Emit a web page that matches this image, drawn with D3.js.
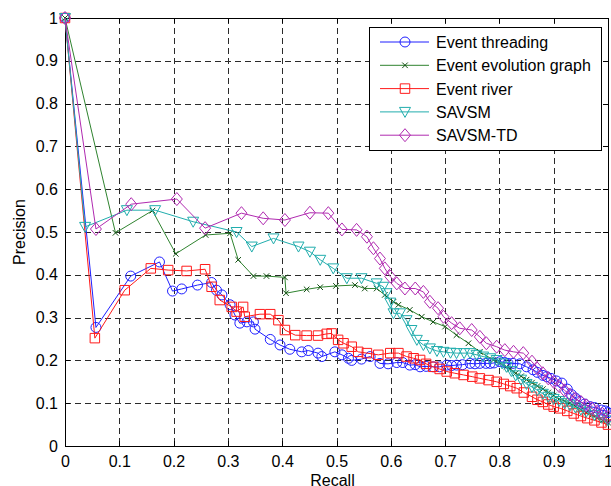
<!DOCTYPE html>
<html>
<head>
<meta charset="utf-8">
<script src="https://cdn.jsdelivr.net/npm/d3@7"></script>
<style>
  body { margin: 0; background: #fff; }
  svg { display: block; font-family: "Liberation Sans", Arial, Helvetica, sans-serif; }
</style>
</head>
<body>
<svg id="chart" width="611" height="486"></svg>
<script>
// data

const seriesNames = ['Event threading', 'Event evolution graph', 'Event river', 'SAVSM', 'SAVSM-TD'];

const threadingRecall = [0, 0.057, 0.121, 0.174, 0.198, 0.215, 0.244, 0.27, 0.279, 0.289, 0.304, 0.313, 0.322, 0.335, 0.347, 0.35, 0.378, 0.396, 0.414, 0.436, 0.448, 0.466, 0.473, 0.497, 0.51, 0.522, 0.528, 0.546, 0.562, 0.58, 0.595, 0.611, 0.622, 0.635, 0.645, 0.654, 0.665, 0.678, 0.69, 0.703, 0.712, 0.721, 0.732, 0.746, 0.755, 0.764, 0.775, 0.783, 0.79, 0.801, 0.81, 0.816, 0.825, 0.838, 0.85, 0.862, 0.87, 0.88, 0.887, 0.895, 0.905, 0.915, 0.925, 0.933, 0.94, 0.948, 0.957, 0.967, 0.975, 0.988, 0.995, 1];
const threadingPrecision = [1, 0.277, 0.397, 0.43, 0.362, 0.367, 0.376, 0.382, 0.364, 0.353, 0.33, 0.306, 0.287, 0.29, 0.29, 0.273, 0.249, 0.236, 0.226, 0.22, 0.223, 0.217, 0.209, 0.22, 0.213, 0.205, 0.2, 0.203, 0.209, 0.193, 0.192, 0.195, 0.195, 0.189, 0.19, 0.185, 0.186, 0.185, 0.185, 0.189, 0.188, 0.189, 0.19, 0.193, 0.192, 0.193, 0.193, 0.193, 0.194, 0.197, 0.195, 0.193, 0.193, 0.192, 0.185, 0.178, 0.172, 0.165, 0.162, 0.158, 0.152, 0.147, 0.133, 0.12, 0.112, 0.104, 0.098, 0.092, 0.09, 0.084, 0.082, 0.078];

const evolutionRecall = [0, 0.093, 0.161, 0.204, 0.259, 0.304, 0.319, 0.347, 0.371, 0.405, 0.407, 0.445, 0.47, 0.499, 0.534, 0.552, 0.574, 0.589, 0.605, 0.614, 0.635, 0.657, 0.678, 0.7, 0.721, 0.743, 0.764, 0.789, 0.813, 0.82, 0.83, 0.84, 0.85, 0.86, 0.87, 0.88, 0.89, 0.9, 0.91, 0.92, 0.93, 0.94, 0.95, 0.96, 0.97, 0.98, 0.99, 1];
const evolutionPrecision = [1, 0.498, 0.55, 0.449, 0.493, 0.497, 0.435, 0.397, 0.397, 0.394, 0.357, 0.366, 0.371, 0.374, 0.376, 0.368, 0.368, 0.353, 0.337, 0.33, 0.318, 0.302, 0.29, 0.279, 0.259, 0.24, 0.22, 0.201, 0.185, 0.18, 0.17, 0.163, 0.155, 0.148, 0.14, 0.133, 0.125, 0.118, 0.11, 0.105, 0.1, 0.093, 0.085, 0.078, 0.072, 0.066, 0.06, 0.055];

const riverRecall = [0, 0.055, 0.11, 0.158, 0.19, 0.224, 0.258, 0.27, 0.285, 0.307, 0.316, 0.328, 0.331, 0.359, 0.378, 0.393, 0.405, 0.424, 0.445, 0.466, 0.482, 0.491, 0.503, 0.513, 0.528, 0.54, 0.556, 0.577, 0.599, 0.614, 0.629, 0.642, 0.654, 0.665, 0.678, 0.69, 0.703, 0.718, 0.734, 0.75, 0.764, 0.78, 0.795, 0.808, 0.82, 0.832, 0.845, 0.86, 0.87, 0.88, 0.89, 0.9, 0.912, 0.925, 0.937, 0.95, 0.962, 0.975, 0.988, 1];
const riverPrecision = [1, 0.252, 0.364, 0.415, 0.411, 0.409, 0.413, 0.372, 0.341, 0.325, 0.314, 0.325, 0.302, 0.308, 0.308, 0.294, 0.271, 0.259, 0.258, 0.258, 0.262, 0.263, 0.248, 0.24, 0.232, 0.22, 0.217, 0.213, 0.217, 0.217, 0.209, 0.205, 0.201, 0.192, 0.185, 0.18, 0.174, 0.17, 0.166, 0.162, 0.158, 0.154, 0.15, 0.145, 0.14, 0.135, 0.125, 0.115, 0.108, 0.103, 0.097, 0.092, 0.088, 0.082, 0.076, 0.07, 0.065, 0.06, 0.055, 0.05];

const savsmRecall = [0, 0.037, 0.114, 0.166, 0.236, 0.316, 0.344, 0.384, 0.43, 0.451, 0.47, 0.494, 0.519, 0.546, 0.574, 0.586, 0.592, 0.599, 0.605, 0.617, 0.629, 0.638, 0.648, 0.66, 0.672, 0.685, 0.697, 0.71, 0.721, 0.735, 0.746, 0.758, 0.77, 0.783, 0.795, 0.805, 0.813, 0.822, 0.83, 0.84, 0.85, 0.86, 0.87, 0.88, 0.89, 0.9, 0.91, 0.92, 0.93, 0.94, 0.95, 0.96, 0.975, 0.988, 1];
const savsmPrecision = [1, 0.512, 0.551, 0.551, 0.524, 0.5, 0.466, 0.485, 0.466, 0.454, 0.435, 0.415, 0.392, 0.392, 0.38, 0.372, 0.357, 0.335, 0.31, 0.31, 0.294, 0.271, 0.248, 0.236, 0.228, 0.222, 0.22, 0.218, 0.217, 0.217, 0.217, 0.213, 0.209, 0.205, 0.201, 0.193, 0.185, 0.175, 0.165, 0.155, 0.145, 0.138, 0.13, 0.122, 0.115, 0.11, 0.105, 0.1, 0.095, 0.09, 0.085, 0.08, 0.072, 0.066, 0.06];

const tdRecall = [0, 0.057, 0.122, 0.206, 0.258, 0.325, 0.365, 0.405, 0.451, 0.485, 0.51, 0.537, 0.556, 0.568, 0.58, 0.589, 0.599, 0.611, 0.626, 0.645, 0.66, 0.672, 0.687, 0.697, 0.712, 0.727, 0.749, 0.764, 0.776, 0.795, 0.81, 0.826, 0.844, 0.86, 0.869, 0.88, 0.89, 0.9, 0.91, 0.92, 0.93, 0.94, 0.95, 0.96, 0.97, 0.98, 0.99, 1];
const tdPrecision = [1, 0.507, 0.565, 0.577, 0.509, 0.544, 0.532, 0.528, 0.545, 0.544, 0.506, 0.505, 0.489, 0.462, 0.438, 0.415, 0.396, 0.38, 0.368, 0.368, 0.36, 0.337, 0.322, 0.302, 0.287, 0.275, 0.271, 0.255, 0.24, 0.232, 0.224, 0.22, 0.217, 0.197, 0.182, 0.17, 0.158, 0.15, 0.14, 0.13, 0.12, 0.11, 0.103, 0.095, 0.088, 0.08, 0.075, 0.068];

const xTicks = [0, 0.1, 0.2, 0.3, 0.4, 0.5, 0.6, 0.7, 0.8, 0.9, 1];
const yTicks = [0, 0.1, 0.2, 0.3, 0.4, 0.5, 0.6, 0.7, 0.8, 0.9, 1];

// build series table from the arrays

const zip = (xs, ys) => xs.map((x, i) => ({ x, y: ys[i] }));
const series = [
  { name: seriesNames[0], line: '#1f1fff', mark: '#1f1fff', symbol: 'circle', points: zip(threadingRecall, threadingPrecision) },
  { name: seriesNames[1], line: '#2f832f', mark: '#134f13', symbol: 'cross', points: zip(evolutionRecall, evolutionPrecision) },
  { name: seriesNames[2], line: '#ff1a1a', mark: '#ff1a1a', symbol: 'square', points: zip(riverRecall, riverPrecision) },
  { name: seriesNames[3], line: '#21adad', mark: '#21adad', symbol: 'triangle', points: zip(savsmRecall, savsmPrecision) },
  { name: seriesNames[4], line: '#b02ab0', mark: '#b02ab0', symbol: 'diamond', points: zip(tdRecall, tdPrecision) }
];

// layout

const margin = { top: 18, left: 65 };
const width = 543;
const height = 428;
const svg = d3.select('#chart');
const g = svg.append('g')
    .attr('transform', `translate(${margin.left}, ${margin.top})`);

// scales

const x = d3.scaleLinear().domain([0, 1]).range([0, width]);
const y = d3.scaleLinear().domain([0, 1]).range([height, 0]);

// grid

g.append('g')
    .attr('class', 'grid')
  .selectAll('line.v')
  .data(xTicks.slice(1, -1))
  .join('line')
    .attr('x1', d => Math.round(x(d)) + 0.5)
    .attr('x2', d => Math.round(x(d)) + 0.5)
    .attr('y1', 0)
    .attr('y2', height)
    .attr('stroke', '#2a2a2a')
    .attr('stroke-dasharray', '6,4');

g.append('g')
    .attr('class', 'grid')
  .selectAll('line.h')
  .data(yTicks.slice(1, -1))
  .join('line')
    .attr('y1', d => Math.round(y(d)) + 0.5)
    .attr('y2', d => Math.round(y(d)) + 0.5)
    .attr('x1', 0)
    .attr('x2', width)
    .attr('stroke', '#2a2a2a')
    .attr('stroke-dasharray', '6,4');

// axes (labels only, ticks drawn inside)

const xAxis = d3.axisBottom(x)
    .tickValues(xTicks)
    .tickFormat(d3.format('~g'))
    .tickSize(0)
    .tickPadding(10);

const yAxis = d3.axisLeft(y)
    .tickValues(yTicks)
    .tickFormat(d3.format('~g'))
    .tickSize(0)
    .tickPadding(7);

g.append('g')
    .attr('transform', `translate(0, ${height})`)
    .call(xAxis)
    .call(a => a.select('.domain').remove())
    .call(a => a.selectAll('text').attr('font-size', 16).attr('fill', '#000').attr('font-family', null));

g.append('g')
    .call(yAxis)
    .call(a => a.select('.domain').remove())
    .call(a => a.selectAll('text').attr('font-size', 16).attr('fill', '#000').attr('font-family', null));

// inner ticks on all four sides

const tickLen = 5;
const ticks = g.append('g').attr('stroke', '#000');
xTicks.forEach(t => {
  const px = Math.round(x(t)) + 0.5;
  ticks.append('line').attr('x1', px).attr('x2', px).attr('y1', height).attr('y2', height - tickLen);
  ticks.append('line').attr('x1', px).attr('x2', px).attr('y1', 0).attr('y2', tickLen);
});
yTicks.forEach(t => {
  const py = Math.round(y(t)) + 0.5;
  ticks.append('line').attr('y1', py).attr('y2', py).attr('x1', 0).attr('x2', tickLen);
  ticks.append('line').attr('y1', py).attr('y2', py).attr('x1', width).attr('x2', width - tickLen);
});

// box

g.append('rect')
    .attr('x', 0.5)
    .attr('y', 0.5)
    .attr('width', width)
    .attr('height', height)
    .attr('fill', 'none')
    .attr('stroke', '#000');

// axis titles

svg.append('text')
    .attr('x', margin.left + width / 2 - 4)
    .attr('y', 486)
    .attr('text-anchor', 'middle')
    .attr('font-size', 16)
    .text('Recall');

svg.append('text')
    .attr('transform', `translate(25, ${margin.top + height / 2}) rotate(-90)`)
    .attr('text-anchor', 'middle')
    .attr('font-size', 16)
    .text('Precision');

// markers

const symbolPath = {
  circle: d3.symbol(d3.symbolCircle, 78)(),
  square: d3.symbol(d3.symbolSquare, 90)(),
  cross: d3.symbol(d3.symbolX, 22)(),
  diamond: 'M0,-6.5L5.5,0L0,6.5L-5.5,0Z',
  triangle: 'M-5.5,-4.5L5.5,-4.5L0,5.5Z'
};

const line = d3.line()
    .x(d => x(d.x))
    .y(d => y(d.y));

const plots = g.selectAll('.series')
  .data(series)
  .join('g')
    .attr('class', 'series');

plots.append('path')
    .attr('d', d => line(d.points))
    .attr('fill', 'none')
    .attr('stroke', d => d.line)
    .attr('stroke-width', 1);

plots.each(function(s) {
  d3.select(this).selectAll('.mark')
    .data(s.points)
    .join('path')
      .attr('class', 'mark')
      .attr('transform', d => `translate(${x(d.x)}, ${y(d.y)})`)
      .attr('d', symbolPath[s.symbol])
      .attr('fill', 'none')
      .attr('stroke', s.mark)
      .attr('stroke-width', 1);
});

// legend

const legend = svg.append('g')
    .attr('transform', 'translate(369, 27)');

legend.append('rect')
    .attr('x', 0.5)
    .attr('y', 0.5)
    .attr('width', 232)
    .attr('height', 123)
    .attr('fill', '#fff')
    .attr('stroke', '#000');

const rows = legend.selectAll('.row')
  .data(series)
  .join('g')
    .attr('class', 'row')
    .attr('transform', (d, i) => `translate(0, ${15 + i * 23.3})`);

rows.append('line')
    .attr('x1', 11)
    .attr('x2', 60)
    .attr('stroke', d => d.line);

rows.append('path')
    .attr('transform', 'translate(36, 0)')
    .attr('d', d => symbolPath[d.symbol])
    .attr('fill', 'none')
    .attr('stroke', d => d.mark);

rows.append('text')
    .attr('x', 67)
    .attr('y', 6)
    .attr('font-size', 16)
    .text(d => d.name);
</script>
</body>
</html>
